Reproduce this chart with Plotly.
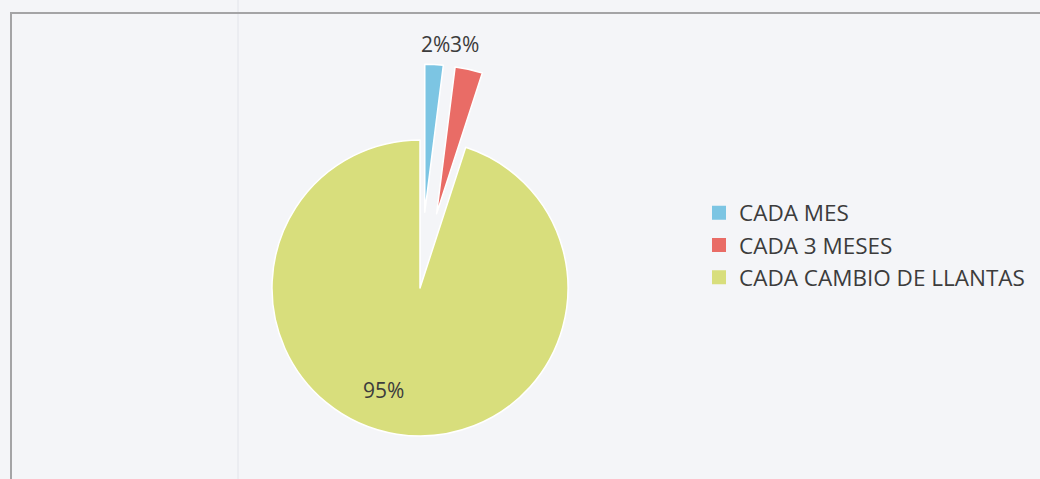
import math
import plotly.graph_objects as go

# Survey answers: how often the tyres are checked
categories = ["CADA MES", "CADA 3 MESES", "CADA CAMBIO DE LLANTAS"]
percentages = [2, 3, 95]
slice_colors = ["#7cc5e3", "#e96c66", "#d8de7c"]
exploded = [True, True, False]

# ---- geometry / styling (pixels on a 1040 x 479 page) ----
W, H = 1040, 479
CX, CY, R = 420, 288, 148          # pie centre and radius
EXPLODE_PX = 76                    # how far exploded slices are pushed out
LABEL_POS = [(435, 44), (464, 44), (383, 390)]
BG = "#f4f5f8"
TEXT = "#3c3c3c"
FONT = "Open Sans"
CLEAR = "rgba(0,0,0,0)"


def domain(cx, cy, r):
    return dict(x=[(cx - r) / W, (cx + r) / W],
                y=[1 - (cy + r) / H, 1 - (cy - r) / H])


total = float(sum(percentages))
starts = [sum(percentages[:i]) for i in range(len(percentages))]

fig = go.Figure()

# Legend carrier: a vanishingly small pie hidden under the main one
fig.add_trace(go.Pie(
    labels=categories, values=percentages, sort=False,
    direction="clockwise", rotation=0,
    marker=dict(colors=slice_colors,
                line=dict(color=slice_colors, width=2)),
    textinfo="none", hoverinfo="skip", showlegend=True,
    domain=domain(CX, CY + 60, 0.3),
))

# One pie per slice so that each slice can be shifted on its own
for i, (lab, val) in enumerate(zip(categories, percentages)):
    cx, cy = CX, CY
    if exploded[i]:
        mid = 2 * math.pi * (starts[i] + val / 2) / total
        cx += EXPLODE_PX * math.sin(mid)
        cy -= EXPLODE_PX * math.cos(mid)
    fig.add_trace(go.Pie(
        labels=categories, values=percentages, sort=False,
        direction="clockwise", rotation=0,
        marker=dict(
            colors=[c if j == i else CLEAR for j, c in enumerate(slice_colors)],
            line=dict(color="white",
                      width=[1.5 if j == i else 0 for j in range(len(categories))]),
        ),
        textinfo="none", hoverinfo="label+percent", showlegend=False,
        domain=domain(cx, cy, R),
    ))

# Percentage labels
for (x, y), val in zip(LABEL_POS, percentages):
    fig.add_annotation(
        x=x / W, y=1 - y / H, xref="paper", yref="paper",
        text=f"{val}%", showarrow=False,
        font=dict(family=FONT, size=21, color=TEXT),
        xanchor="center", yanchor="middle",
    )

# Chart frame (only top and left edges fall inside the page) and paper crease
fig.add_shape(type="line", xref="paper", yref="paper",
              x0=11 / W, x1=11 / W, y0=-0.1, y1=1 - 13 / H,
              line=dict(color="#a4a4a6", width=2))
fig.add_shape(type="line", xref="paper", yref="paper",
              x0=10 / W, x1=1.1, y0=1 - 13 / H, y1=1 - 13 / H,
              line=dict(color="#a4a4a6", width=2))
fig.add_shape(type="line", xref="paper", yref="paper",
              x0=238 / W, x1=238 / W, y0=0, y1=1,
              line=dict(color="#e2e4ea", width=1), layer="below")

fig.update_layout(
    width=W, height=H, autosize=False,
    margin=dict(l=0, r=0, t=0, b=0),
    paper_bgcolor=BG, plot_bgcolor=BG,
    font=dict(family=FONT, color=TEXT),
    legend=dict(
        x=699 / W, y=1 - 245 / H, xanchor="left", yanchor="middle",
        font=dict(family=FONT, size=22.5, color=TEXT),
        bgcolor=CLEAR, borderwidth=0, itemclick=False, itemdoubleclick=False,
    ),
)

fig.write_html("out.html")
